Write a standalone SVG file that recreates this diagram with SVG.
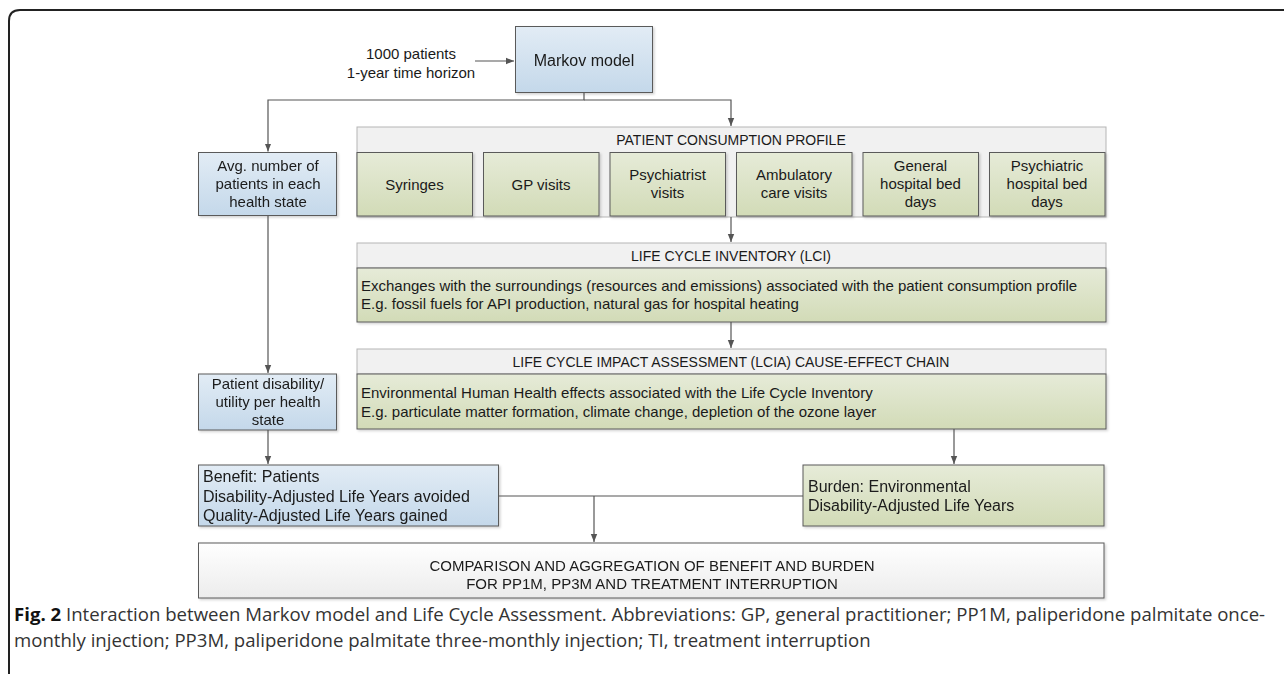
<svg xmlns="http://www.w3.org/2000/svg" width="1284" height="674" viewBox="0 0 1284 674">
<defs>
<linearGradient id="gBlue" x1="0" y1="0" x2="0" y2="1"><stop offset="0" stop-color="#e2ecf5"/><stop offset="1" stop-color="#c4d8ea"/></linearGradient>
<linearGradient id="gGreen" x1="0" y1="0" x2="0" y2="1"><stop offset="0" stop-color="#e6ebd8"/><stop offset="1" stop-color="#d2dbb7"/></linearGradient>
<linearGradient id="gGray" x1="0" y1="0" x2="0" y2="1"><stop offset="0" stop-color="#ffffff"/><stop offset="1" stop-color="#ececec"/></linearGradient>
<marker id="arr" viewBox="0 0 8 8" refX="8" refY="4" markerWidth="8" markerHeight="8" markerUnits="userSpaceOnUse" orient="auto"><path d="M0 0.8 L8 4 L0 7.2 Z" fill="#555"/></marker>
<filter id="sh" x="-5%" y="-5%" width="110%" height="120%"><feDropShadow dx="1.5" dy="1.5" stdDeviation="0.8" flood-color="#000" flood-opacity="0.18"/></filter>
</defs>
<style>
.t{font-family:"Liberation Sans",Arial,sans-serif;font-size:15px;fill:#1a1a1a}
.h{font-size:14px}
.b{font-size:16px}
.c{text-anchor:middle}
.blue{fill:url(#gBlue);stroke:#5a5a5a;stroke-width:1}
.green{fill:url(#gGreen);stroke:#5a5a5a;stroke-width:1}
.hdr{fill:#f1f1f1;stroke:#b5b5b5;stroke-width:1}
.gray{fill:url(#gGray);stroke:#5a5a5a;stroke-width:1}
.ln{fill:none;stroke:#555;stroke-width:1.2}
.cap{font-family:"Open Sans","Liberation Sans",sans-serif;font-size:18.6px;fill:#333}
</style>
<rect width="1284" height="674" fill="#fff"/>
<path id="frame" d="M9 680 V21 Q9 10 20 10 H1290" fill="none" stroke="#222" stroke-width="2"/>

<g id="input-label">
<text class="t c" x="411" y="59">1000 patients</text>
<text class="t c" x="411" y="78">1-year time horizon</text>
</g>

<g id="markov" filter="url(#sh)">
<rect class="blue" x="515.5" y="26.5" width="137" height="66"/>
<text class="t b c" x="584" y="66">Markov model</text>
</g>

<g id="avg-patients" filter="url(#sh)">
<rect class="blue" x="198.5" y="152.5" width="138" height="63"/>
<text class="t c" x="268" y="171">Avg. number of</text>
<text class="t c" x="268" y="189">patients in each</text>
<text class="t c" x="268" y="207">health state</text>
</g>

<g id="consumption-profile">
<rect class="hdr" x="357" y="127" width="749" height="90"/>
<text class="t h c" x="731" y="145">PATIENT CONSUMPTION PROFILE</text>
<g filter="url(#sh)">
<rect class="green" x="357" y="152.5" width="115.5" height="63.5"/>
<rect class="green" x="483.5" y="152.5" width="115.5" height="63.5"/>
<rect class="green" x="610" y="152.5" width="115.5" height="63.5"/>
<rect class="green" x="736.5" y="152.5" width="115.5" height="63.5"/>
<rect class="green" x="863" y="152.5" width="115.5" height="63.5"/>
<rect class="green" x="989.5" y="152.5" width="115.5" height="63.5"/>
</g>
<text class="t c" x="414.5" y="190">Syringes</text>
<text class="t c" x="541" y="190">GP visits</text>
<text class="t c" x="667.5" y="180">Psychiatrist</text>
<text class="t c" x="667.5" y="198">visits</text>
<text class="t c" x="794" y="180">Ambulatory</text>
<text class="t c" x="794" y="198">care visits</text>
<text class="t c" x="920.5" y="171">General</text>
<text class="t c" x="920.5" y="189">hospital bed</text>
<text class="t c" x="920.5" y="207">days</text>
<text class="t c" x="1047" y="171">Psychiatric</text>
<text class="t c" x="1047" y="189">hospital bed</text>
<text class="t c" x="1047" y="207">days</text>
</g>

<g id="lci">
<rect class="hdr" x="357" y="243" width="749" height="25"/>
<text class="t h c" x="731" y="261">LIFE CYCLE INVENTORY (LCI)</text>
<rect class="green" x="357" y="268" width="749" height="54" filter="url(#sh)"/>
<text class="t" x="361" y="291">Exchanges with the surroundings (resources and emissions) associated with the patient consumption profile</text>
<text class="t" x="361" y="309">E.g. fossil fuels for API production, natural gas for hospital heating</text>
</g>

<g id="lcia">
<rect class="hdr" x="357" y="349" width="749" height="25"/>
<text class="t h c" x="731" y="367">LIFE CYCLE IMPACT ASSESSMENT (LCIA) CAUSE-EFFECT CHAIN</text>
<rect class="green" x="357" y="374" width="749" height="55" filter="url(#sh)"/>
<text class="t" x="361" y="398">Environmental Human Health effects associated with the Life Cycle Inventory</text>
<text class="t" x="361" y="417">E.g. particulate matter formation, climate change, depletion of the ozone layer</text>
</g>

<g id="disability" filter="url(#sh)">
<rect class="blue" x="198.5" y="374" width="138" height="56"/>
<text class="t c" x="268" y="389">Patient disability/</text>
<text class="t c" x="268" y="407">utility per health</text>
<text class="t c" x="268" y="425">state</text>
</g>

<g id="benefit" filter="url(#sh)">
<rect class="blue" x="198.5" y="465" width="300" height="61"/>
<text class="t b" x="203" y="482">Benefit: Patients</text>
<text class="t b" x="203" y="502">Disability-Adjusted Life Years avoided</text>
<text class="t b" x="203" y="521">Quality-Adjusted Life Years gained</text>
</g>

<g id="burden" filter="url(#sh)">
<rect class="green" x="803" y="465" width="301" height="61"/>
<text class="t b" x="808" y="492">Burden: Environmental</text>
<text class="t b" x="808" y="511">Disability-Adjusted Life Years</text>
</g>

<g id="comparison" filter="url(#sh)">
<rect class="gray" x="198.5" y="543" width="905.5" height="55"/>
<text class="t c" x="652" y="571">COMPARISON AND AGGREGATION OF BENEFIT AND BURDEN</text>
<text class="t c" x="652" y="589">FOR PP1M, PP3M AND TREATMENT INTERRUPTION</text>
</g>

<g id="connectors">
<path class="ln" d="M475 61 H514" marker-end="url(#arr)"/>
<path class="ln" d="M584 92.5 V100 H268 V151.5" marker-end="url(#arr)"/>
<path class="ln" d="M584 100 H731 V126" marker-end="url(#arr)"/>
<path class="ln" d="M731 217 V242" marker-end="url(#arr)"/>
<path class="ln" d="M731 322 V348" marker-end="url(#arr)"/>
<path class="ln" d="M268 216 V373" marker-end="url(#arr)"/>
<path class="ln" d="M268 430 V464" marker-end="url(#arr)"/>
<path class="ln" d="M954 429 V464" marker-end="url(#arr)"/>
<path class="ln" d="M498.5 496 H803"/>
<path class="ln" d="M594 496 V542" marker-end="url(#arr)"/>
</g>

<g id="caption">
<text class="cap" x="14" y="621"><tspan font-weight="bold" fill="#111">Fig. 2</tspan> Interaction between Markov model and Life Cycle Assessment. Abbreviations: GP, general practitioner; PP1M, paliperidone palmitate once-</text>
<text class="cap" x="14" y="647">monthly injection; PP3M, paliperidone palmitate three-monthly injection; TI, treatment interruption</text>
</g>
</svg>
